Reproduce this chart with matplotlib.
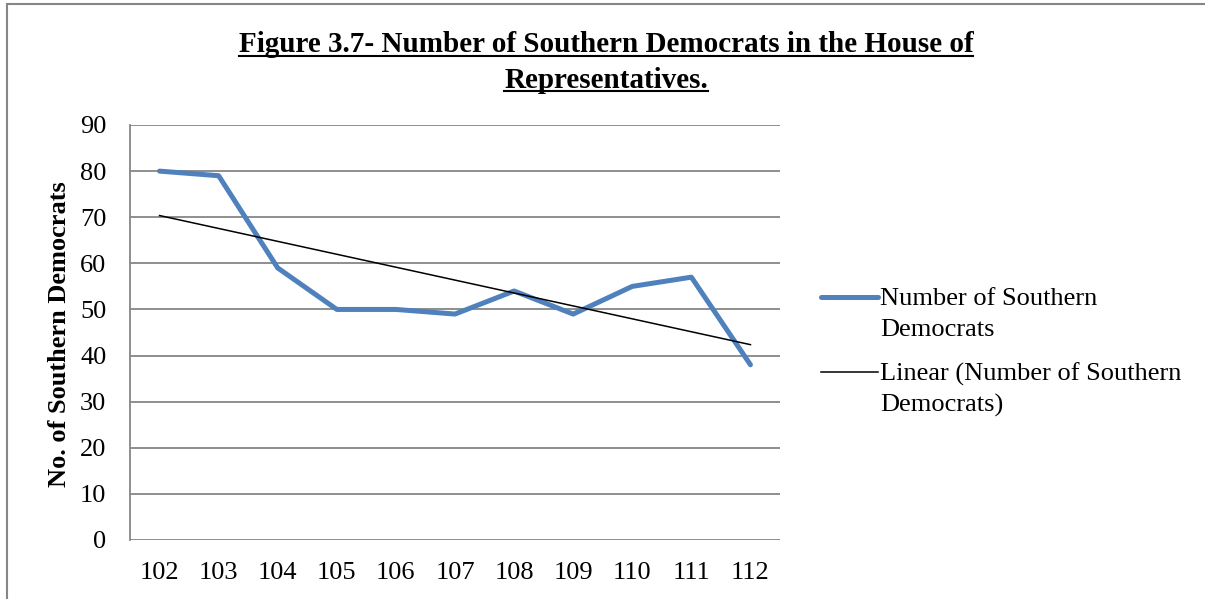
import numpy as np
import matplotlib
matplotlib.use("Agg")
import matplotlib.pyplot as plt
from matplotlib.lines import Line2D
from matplotlib.patches import Rectangle

# Données
congress = ["102", "103", "104", "105", "106", "107", "108", "109", "110", "111", "112"]
southern_dems = [80, 79, 59, 50, 50, 49, 54, 49, 55, 57, 38]
series_label = ["Number of Southern", "Democrats"]
trend_label = ["Linear (Number of Southern", "Democrats)"]
title_lines = ["Figure 3.7- Number of Southern Democrats in the House of", "Representatives."]
ylabel = "No. of Southern Democrats"

plt.rcParams["font.family"] = ["Liberation Serif", "DejaVu Serif"]

W, H = 1205, 599
fig = plt.figure(figsize=(W / 100, H / 100), dpi=100)
ax = fig.add_axes([130 / W, 1 - 540 / H, 650 / W, 415 / H])

x = np.arange(len(congress))
y = np.array(southern_dems)

# courbe principale
ax.plot(x, y, color="#4F81BD", lw=3.6, solid_capstyle="round", solid_joinstyle="round")

# tendance linéaire (régression)
slope, intercept = np.polyfit(x, y, 1)
ax.plot(x, slope * x + intercept, color="black", lw=1.1)

ax.set_xlim(-0.5, len(congress) - 0.5)
ax.set_ylim(0, 90)
ax.set_yticks(range(0, 91, 10))
ax.set_xticks(x)
ax.set_xticklabels(congress)
ax.tick_params(axis="both", length=0, labelsize=19)
ax.tick_params(axis="x", pad=16)
ax.tick_params(axis="y", pad=17)
ax.grid(axis="y", color="#868686", lw=1.3)
ax.set_axisbelow(True)
for side in ["top", "right", "bottom"]:
    ax.spines[side].set_visible(False)
ax.spines["left"].set_color("#868686")
ax.spines["left"].set_linewidth(1.3)

fig.text(60 / W, 1 - 334 / H, ylabel, rotation=90, ha="center", va="center",
         fontsize=19, fontweight="bold")

# légende dessinée à la main (trait aligné sur la première ligne)
legend_items = [
    (series_label, dict(color="#4F81BD", lw=3.6, solid_capstyle="round"), 297),
    (trend_label, dict(color="black", lw=1.1), 372),
]
for lines, style, ly in legend_items:
    fig.add_artist(Line2D([821 / W, 878 / W], [1 - ly / H] * 2, transform=fig.transFigure, **style))
    for k, txt in enumerate(lines):
        fig.text(880 / W, 1 - (ly + 2 + 31 * k) / H, txt, ha="left", va="center", fontsize=19)

# titre souligné
title_y = [45, 80]
texts = []
for line, ty in zip(title_lines, title_y):
    t = fig.text(0.503, 1 - ty / H, line, ha="center", va="center", fontsize=21, fontweight="bold")
    texts.append(t)

fig.canvas.draw()
renderer = fig.canvas.get_renderer()
for t in texts:
    bb = t.get_window_extent(renderer).transformed(fig.transFigure.inverted())
    fig.add_artist(Line2D([bb.x0, bb.x1], [bb.y0 + 0.004, bb.y0 + 0.004], transform=fig.transFigure,
                          color="black", lw=1.5))

# cadre gris du graphique
fig.add_artist(Rectangle((7 / W, -0.1), 1.2, 1.1 - 4 / H, transform=fig.transFigure,
                         fill=False, edgecolor="#868686", lw=1.5))

fig.savefig("out.png", dpi=100)
